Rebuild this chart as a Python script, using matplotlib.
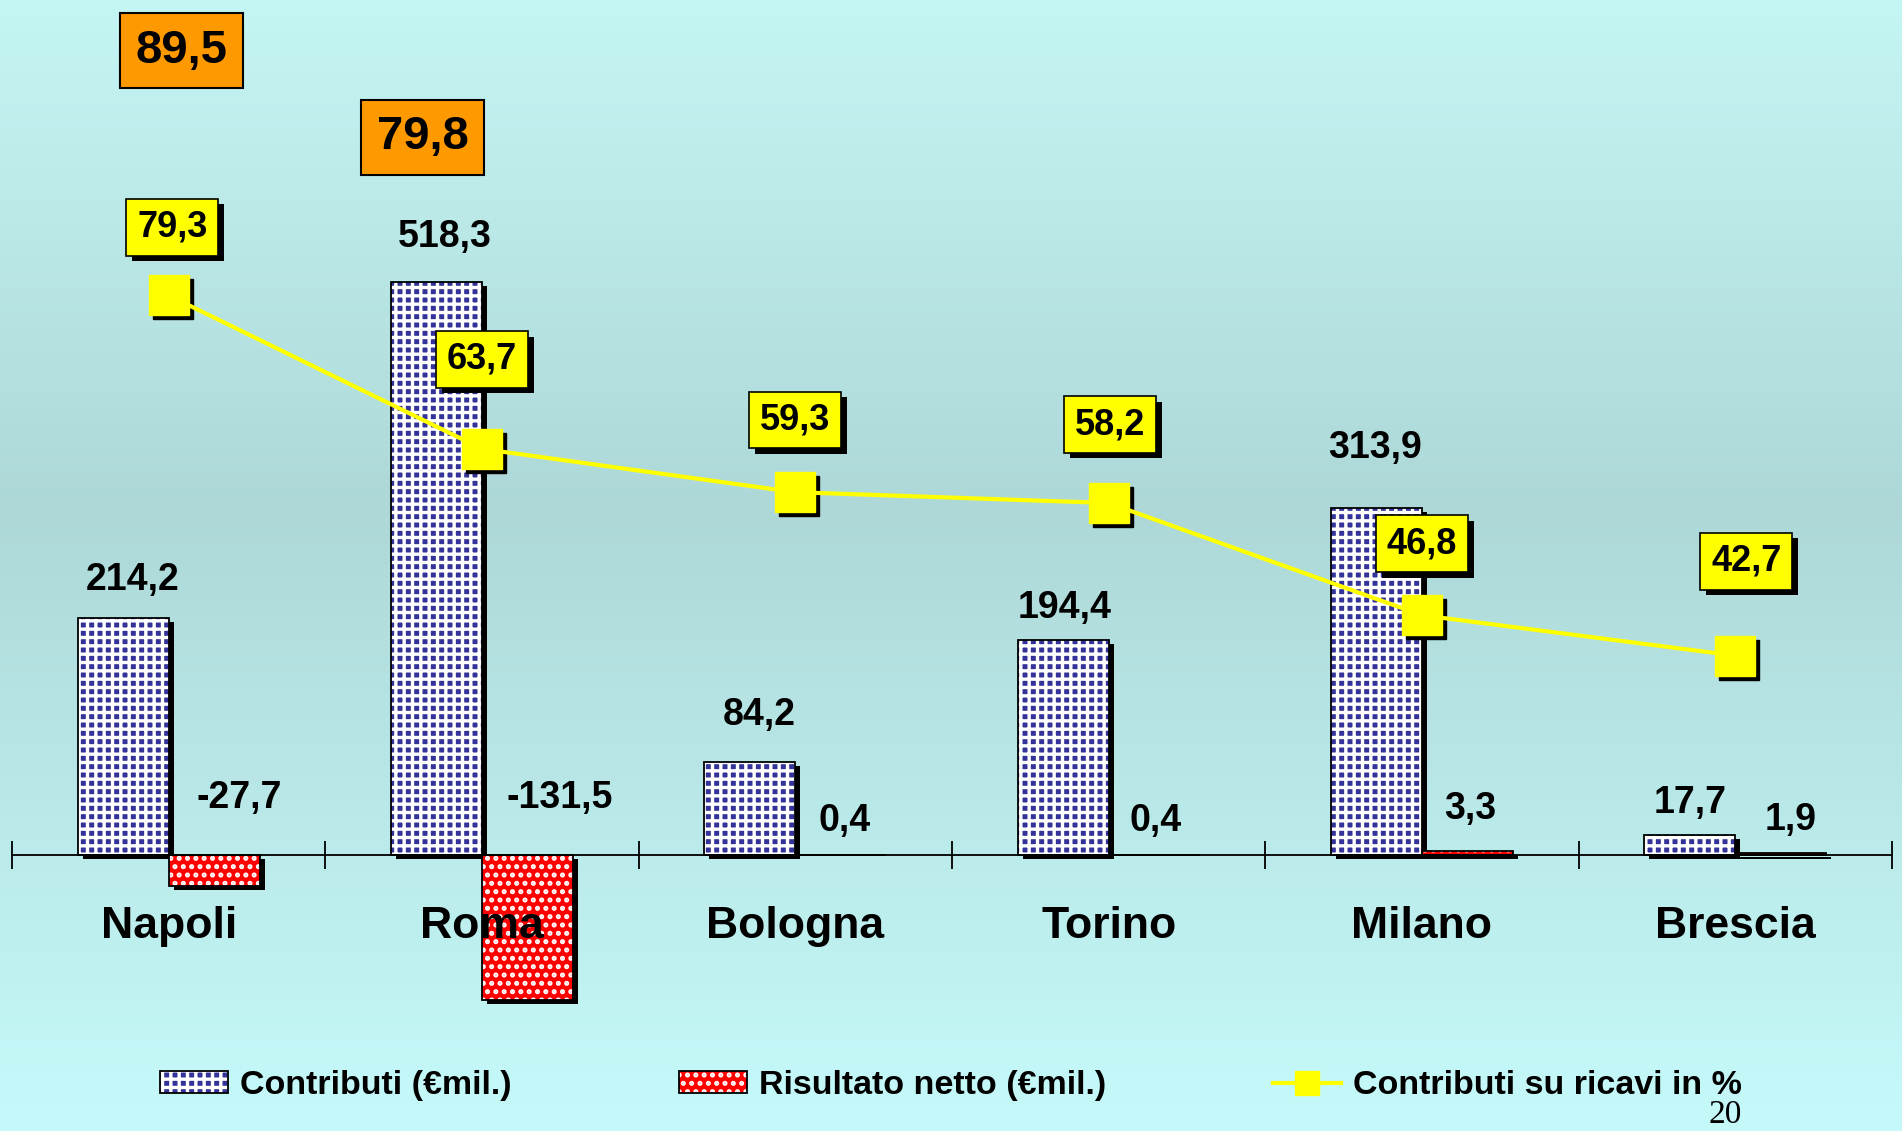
import numpy as np
import matplotlib.pyplot as plt
from matplotlib import patheffects
from matplotlib.patches import Patch
from matplotlib.lines import Line2D
from matplotlib.legend_handler import HandlerTuple
from matplotlib.transforms import offset_copy, blended_transform_factory

cities = ['Napoli', 'Roma', 'Bologna', 'Torino', 'Milano', 'Brescia']
contributi = [214.2, 518.3, 84.2, 194.4, 313.9, 17.7]
risultato = [-27.7, -131.5, 0.4, 0.4, 3.3, 1.9]
perc_ricavi = [79.3, 63.7, 59.3, 58.2, 46.8, 42.7]
# valori evidenziati nei box arancioni
highlight_idx = [0, 1]
highlight_vals = [89.5, 79.8]

legend_labels = ['Contributi (€mil.)', 'Risultato netto (€mil.)',
                 'Contributi su ricavi in %']

# spostamenti delle etichette (punti), come nella slide originale
contr_off = [(7, 27.5), (6, 32.5), (7, 33.5), (1, 23.5), (-1, 43.5), (0, 23.5)]
ris_off = [(18, 41), (23.5, 41), (2.5, 24.5), (1, 24.5), (2, 30.5), (7, 23.5)]
perc_off = [(2.6, 49), (0, 64.5), (0, 52), (1, 56.5), (0, 51.5), (8, 68)]


def fmt(v):
    return "{:.1f}".format(v).replace('.', ',')


plt.rcParams['font.family'] = ['Liberation Sans', 'DejaVu Sans']
plt.rcParams['font.weight'] = 'bold'
plt.rcParams['hatch.linewidth'] = 2.4

fig = plt.figure(figsize=(19.02, 11.31), dpi=100)

# sfondo sfumato
bg = fig.add_axes([0, 0, 1, 1], zorder=-10)
stops = [0.0, 0.45, 1.0]
cols = np.array([[196, 246, 244], [174, 216, 216], [198, 250, 250]]) / 255
t = np.linspace(0, 1, 500)
grad = np.stack([np.interp(t, stops, cols[:, c]) for c in range(3)], axis=1)
bg.imshow(grad[:, None, :], aspect='auto', extent=[0, 1, 0, 1])
bg.set_axis_off()

ax = fig.add_axes([12 / 1902, 1 - 1010 / 1131, 1880 / 1902, 1010 / 1131])
ax.patch.set_alpha(0)
ax.set_axisbelow(False)

x = np.arange(len(cities))
w = 0.29
ax.set_xlim(-0.5, 5.5)
ax.set_ylim(-140.3, 773.8)

# ombre delle barre
sh = offset_copy(ax.transData, fig=fig, x=5, y=-4, units='dots')
for vals, off in [(contributi, -w / 2), (risultato, w / 2)]:
    shadow = ax.bar(x + off, vals, w, color='black', linewidth=0, zorder=0.5)
    for p in shadow:
        p.set_transform(sh)

ax.bar(x - w / 2, contributi, w, color='#333399', edgecolor='white',
       hatch='++', linewidth=0, zorder=1)
ax.bar(x - w / 2, contributi, w, fill=False, edgecolor='black',
       linewidth=1.3, zorder=1.2)
ax.bar(x + w / 2, risultato, w, color='#FF0000', edgecolor='white',
       hatch='..', linewidth=0, zorder=1)
ax.bar(x + w / 2, risultato, w, fill=False, edgecolor='black',
       linewidth=1.3, zorder=1.2)

for xi, v, (dx, dy) in zip(x, contributi, contr_off):
    ax.annotate(fmt(v), (xi - w / 2, v), xytext=(dx, dy),
                textcoords='offset points', ha='center', va='center',
                fontsize=27)
for xi, v, (dx, dy) in zip(x, risultato, ris_off):
    ax.annotate(fmt(v), (xi + w / 2, max(v, 0)), xytext=(dx, dy),
                textcoords='offset points', ha='center', va='center',
                fontsize=27)

for s in ['top', 'right', 'left']:
    ax.spines[s].set_visible(False)
ax.spines['bottom'].set_position(('data', 0))
ax.spines['bottom'].set_linewidth(1.3)
ax.set_yticks([])
ax.set_xticks(x, cities, fontsize=32)
ax.set_xticks(np.arange(-0.5, 6, 1), minor=True)
ax.tick_params(axis='x', which='major', length=0, pad=37)
ax.tick_params(axis='x', which='minor', direction='inout', length=20,
               width=1.3)

# box arancioni
tr = blended_transform_factory(ax.transData, ax.transAxes)
hl_pos = [(0.04, 0.95), (-0.19, 0.864)]
for i, v, (dx, yy) in zip(highlight_idx, highlight_vals, hl_pos):
    ax.text(x[i] + dx, yy, fmt(v), transform=tr, ha='center', va='center',
            fontsize=34,
            bbox=dict(boxstyle='square,pad=0.33', fc='#FF9900', ec='black',
                      lw=1.5))

# linea percentuale
ax2 = ax.twinx()
ax2.set_ylim(6.7, 109.3)
for s in ax2.spines.values():
    s.set_visible(False)
ax2.set_yticks([])

ax2.plot(x, perc_ricavi, ls='none', marker='s', ms=29, color='black',
         transform=offset_copy(ax2.transData, fig=fig, x=4, y=-4,
                               units='dots'))
ax2.plot(x, perc_ricavi, color='#FFFF00', lw=3, marker='s', ms=29,
         mec='#FFFF00')

for xi, v, (dx, dy) in zip(x, perc_ricavi, perc_off):
    tt = ax2.annotate(fmt(v), (xi, v), xytext=(dx, dy),
                      textcoords='offset points', ha='center', va='center',
                      fontsize=26,
                      bbox=dict(boxstyle='square,pad=0.3', fc='#FFFF00',
                                ec='black', lw=1.2))
    tt.get_bbox_patch().set_path_effects([
        patheffects.SimplePatchShadow(offset=(4, -4), shadow_rgbFace='black',
                                      alpha=1),
        patheffects.Normal()])

h1 = (Patch(fc='#333399', ec='white', hatch='++', lw=0),
      Patch(fill=False, ec='black', lw=1.3))
h2 = (Patch(fc='#FF0000', ec='white', hatch='..', lw=0),
      Patch(fill=False, ec='black', lw=1.3))
h3 = Line2D([], [], color='#FFFF00', lw=3, marker='s', ms=17)
fig.legend([h1, h2, h3], legend_labels, loc='center',
           bbox_to_anchor=(0.5, 0.040), ncol=3, frameon=False, fontsize=24.5,
           handler_map={tuple: HandlerTuple()}, handlelength=2.0,
           handleheight=0.6, handletextpad=0.35, columnspacing=4.9)

fig.text(0.907, 0.014, '20', family=['Liberation Serif'], fontsize=24,
         fontweight='normal', ha='center', va='center')

fig.savefig('out.png', dpi=100)
